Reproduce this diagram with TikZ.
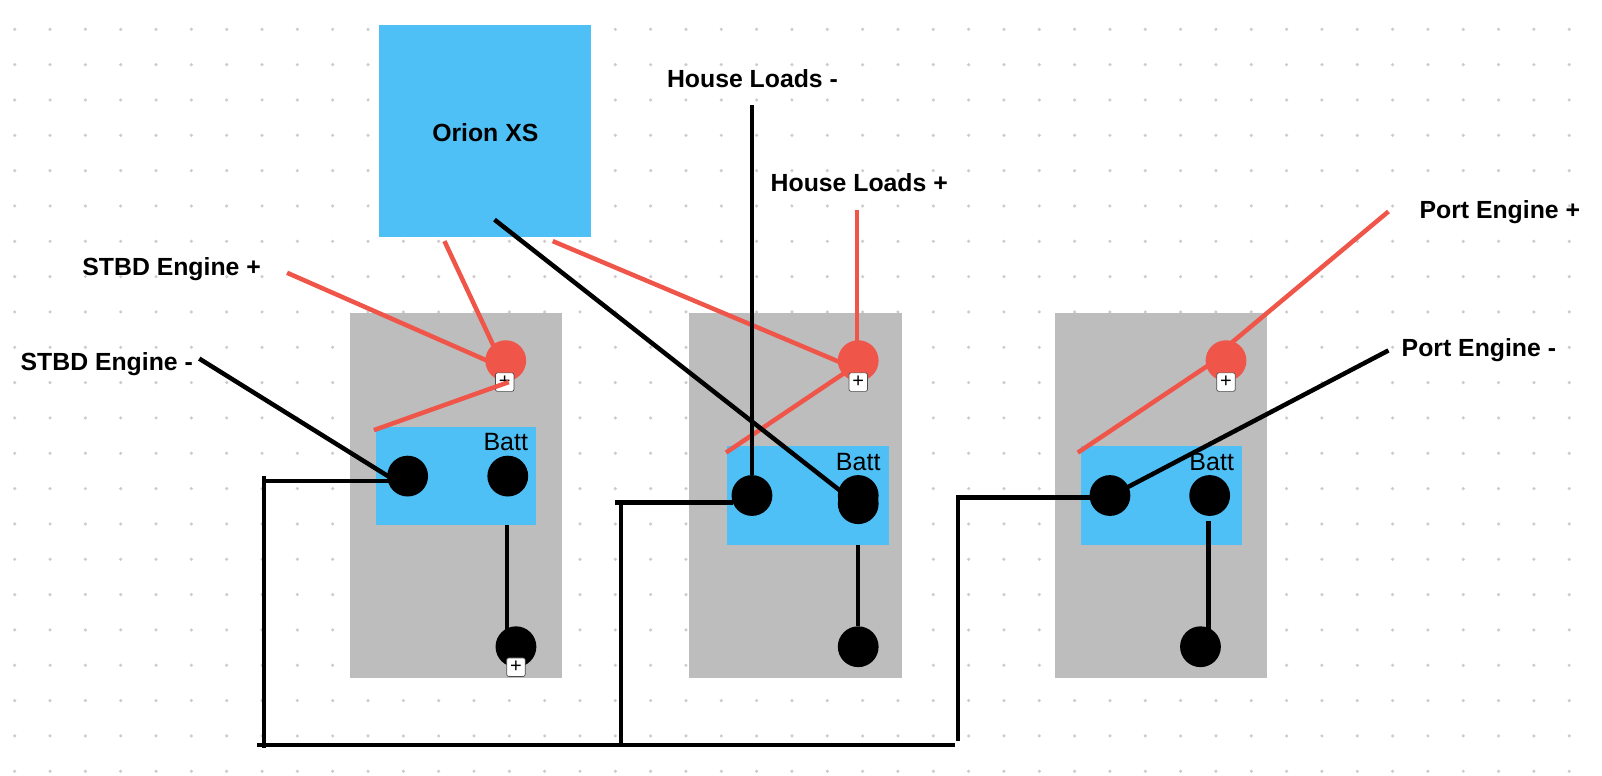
\documentclass[tikz,border=0pt]{standalone}
\usepackage{fontspec}
\setmainfont{Liberation Sans}
\definecolor{skyb}{HTML}{4FC0F5}
\definecolor{grayb}{HTML}{BDBDBD}
\definecolor{redw}{HTML}{EF5548}
\definecolor{griddot}{HTML}{CCCCCC}
\tikzset{
  wire/.style={line width=4.5pt,black},
  redwire/.style={line width=4.5pt,redw},
  panel/.style={fill=grayb,draw=none,inner sep=0pt,minimum width=1.0217*#1 pt,minimum height=365.8pt},
  panel/.default=207,
  blue box/.style={fill=skyb,draw=none,inner sep=0pt},
  term/.style={circle,fill=black,draw=none,inner sep=0pt,minimum size=40.8pt},
  redterm/.style={circle,fill=redw,draw=none,inner sep=0pt,minimum size=40.8pt},
  plusbtn/.style={draw=black!70,fill=white,rounded corners=2pt,line width=0.7pt,inner sep=0pt,minimum size=18.5pt,font=\fontsize{20}{20}\selectfont},
  lab/.style={font=\fontsize{24.8}{28}\selectfont\bfseries,inner sep=0pt},
  batt/.style={font=\fontsize{25}{28}\selectfont,inner sep=0pt}
}
\begin{document}
\begin{tikzpicture}[x=1.0217pt,y=-1.0217pt]
\useasboundingbox (0,0) rectangle (1568,759.5);
\fill[white] (0,0) rectangle (1568,759.5);
% dot grid
\foreach \i in {0,...,45}{\foreach \j in {0,...,21}{
  \fill[griddot] ({14.4+34.58*\i},{28.7+34.58*\j}) circle (1.7);
}}
% panels
\node[panel] (p1) at (446.5,485) {};
\node[panel=209] (p2) at (778.5,485) {};
\node[panel] (p3) at (1136.5,485) {};
% Orion
\node[blue box,minimum width=211.5pt,minimum height=212.5pt] (orion) at (474.5,128) {};
\node[lab] (oriontxt) at (475,130) {Orion XS};
% batteries
\node[blue box,minimum width=160.4pt,minimum height=98.2pt] (b1) at (446.5,466) {};
\node[blue box,minimum width=161.4pt,minimum height=98.2pt] (b2) at (791,485) {};
\node[blue box,minimum width=161.4pt,minimum height=98.2pt] (b3) at (1137,485) {};
\node[batt] (bt1) at (495,433) {Batt};
\node[batt] (bt2) at (840,452) {Batt};
\node[batt] (bt3) at (1186,452) {Batt};
% named ends of the wires
\coordinate (a1) at (435,236);
\coordinate (a1e) at (495,364);
\coordinate (a2) at (281,267);
\coordinate (a2e) at (495,361);
\coordinate (a3) at (366,421);
\coordinate (a4) at (498,374);
\coordinate (a5) at (541,236);
\coordinate (a5e) at (840,362);
\coordinate (a6) at (839,206);
\coordinate (a6e) at (839,353);
\coordinate (a7) at (710.6,443);
\coordinate (a7e) at (840,356);
\coordinate (a8) at (1359,207);
\coordinate (a8e) at (1200,340);
\coordinate (a9) at (1055,443);
\coordinate (a9e) at (1200,346);
\coordinate (k1) at (195,351);
\coordinate (k1e) at (399,478);
\coordinate (k2) at (736,103);
\coordinate (k3) at (484,215);
\coordinate (k3e) at (836,491);
\coordinate (k4) at (1359,343);
\coordinate (k4e) at (1090,484);
\coordinate (k5) at (496,514);
\coordinate (k6) at (496,625);
\coordinate (k7) at (840,533);
\coordinate (k8) at (1183,510);
\coordinate (k9) at (1183,622);
\coordinate (c1) at (258.4,466);
\coordinate (c2) at (258.4,731.8);
\coordinate (c3) at (258.4,471);
\coordinate (c4) at (385,471);
\coordinate (c5) at (251.5,729.2);
\coordinate (c6) at (935,729.2);
\coordinate (c7) at (607.8,492);
\coordinate (c8) at (607.8,729.2);
\coordinate (c9) at (602,492);
\coordinate (c10) at (717,492);
\coordinate (c11) at (937.5,725);
\coordinate (c12) at (937.5,487);
\coordinate (c13) at (1067,487);
% red wires, under the red terminals
\draw[redwire] (a1) -- (a1e);
\draw[redwire] (a2) -- (a2e);
\draw[redwire] (a5) -- (a5e);
\draw[redwire] (a6) -- (a6e);
\draw[redwire] (a7) -- (a7e);
\draw[redwire] (a8) -- (a8e);
\draw[redwire] (a9) -- (a9e);
% red terminals and plus buttons
\node[redterm] (r1) at (495,353) {};
\node[redterm] (r2) at (840,353) {};
\node[redterm] (r3) at (1200,353) {};
\node[plusbtn] (pb1) at (494,374) {+};
\node[plusbtn] (pb2) at (840,374) {+};
\node[plusbtn] (pb3) at (1200,374) {+};
\draw[redwire] (a3) -- (a4);
% black terminals
\node[term] (t1a) at (399,466) {};
\node[term] (t1b) at (497,466) {};
\node[term] (t2a) at (736,485) {};
\node[term] (t2b) at (840,485) {};
\node[term] (t2c) at (840,493) {};
\node[term] (t3a) at (1086.4,485) {};
\node[term] (t3b) at (1184,485) {};
\node[term] (s1) at (505,633) {};
\node[term] (s2) at (840,633) {};
\node[term] (s3) at (1175,633) {};
\node[plusbtn] (pb4) at (505,653) {+};
% black wires
\draw[wire] (k1) -- (k1e);
\draw[wire] (k2) -- (t2a);
\draw[wire] (k3) -- (k3e);
\draw[wire] (k4) -- (k4e);
\draw[wire] (k5) -- (k6);
\draw[wire] (k7) -- (s2);
\draw[wire] (k8) -- (k9);
\draw[wire] (c1) -- (c2);
\draw[wire] (c3) -- (c4);
\draw[wire] (c5) -- (c6);
\draw[wire] (c7) -- (c8);
\draw[wire] (c9) -- (c10);
\draw[wire] (c11) -- (c12) -- (c13);
% labels
\node[lab] (hlm) at (736.5,77) {House Loads -};
\node[lab] (hlp) at (841,179) {House Loads +};
\node[lab] (sep) at (168,263.5) {STBD Engine +};
\node[lab] (sem) at (104.5,356.5) {STBD Engine -};
\node[lab] (pep) at (1468,207.5) {Port Engine +};
\node[lab] (pem) at (1447.5,342.5) {Port Engine -};
\end{tikzpicture}
\end{document}
